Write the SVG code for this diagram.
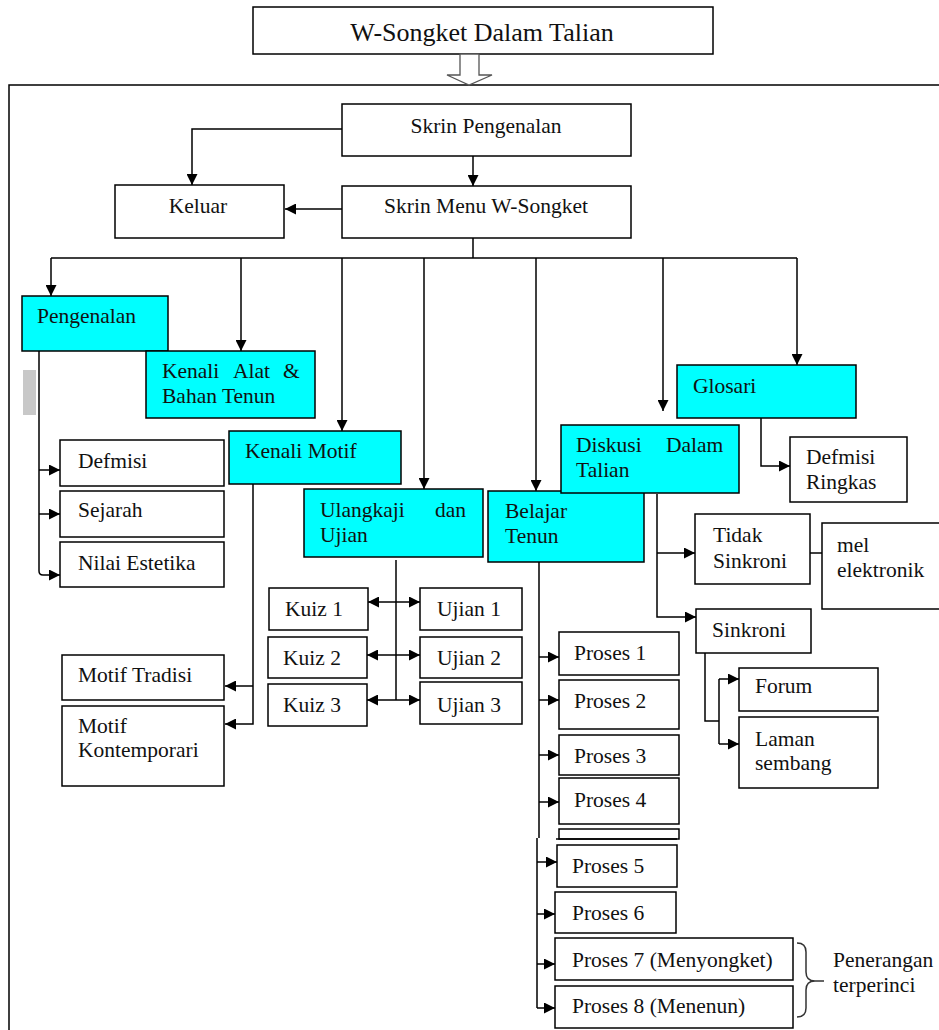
<svg xmlns="http://www.w3.org/2000/svg" width="939" height="1030" viewBox="0 0 939 1030">
<style>
.b{fill:#fff;stroke:#000;stroke-width:1.5}
.c{fill:#00ffff;stroke:#000;stroke-width:1.5}
.l{fill:none;stroke:#000;stroke-width:1.5}
.a{fill:none;stroke:#000;stroke-width:1.5;marker-end:url(#ah)}
.d{fill:none;stroke:#000;stroke-width:1.5;marker-start:url(#ah);marker-end:url(#ah)}
text{font-family:"Liberation Serif","Times New Roman",serif;font-size:21.5px;fill:#111}
.m{text-anchor:middle}
</style>
<defs>
<marker id="ah" viewBox="0 0 10 10" refX="10" refY="5" markerWidth="11" markerHeight="11" markerUnits="userSpaceOnUse" orient="auto-start-reverse">
<path d="M0,0 L10,5 L0,10 Z" fill="#000"/>
</marker>
</defs>
<rect x="9" y="85" width="960" height="980" fill="none" stroke="#000" stroke-width="1.5"/>
<g id="title"><rect class="b" x="253" y="7" width="460" height="47"/><text class="m" x="482" y="41" style="font-size:26px">W-Songket Dalam Talian</text></g>
<g id="hollow-arrow"><polygon points="460,54 479,54 479,75 492,75 469,85 447,75 460,75" fill="#fff" stroke="#555" stroke-width="1.3"/></g>
<g id="connectors">
<path class="a" d="M342,129 H192 V185"/>
<path class="a" d="M473,156 V186"/>
<path class="a" d="M342,209 H285"/>
<path class="l" d="M473,238 V258 M51,258 H797"/>
<path class="a" d="M51,258 V296"/>
<path class="a" d="M241,258 V351"/>
<path class="a" d="M342,258 V431"/>
<path class="a" d="M424,258 V489"/>
<path class="a" d="M536,258 V491"/>
<path class="a" d="M663,258 V411"/>
<path class="a" d="M797,258 V365"/>
<path class="a" d="M39,351 V571 Q39,575 43,575 H60"/>
<path class="a" d="M39,470 H60"/>
<path class="a" d="M39,514 H60"/>
<path class="a" d="M253,484 V724 H225"/>
<path class="a" d="M253,686 H225"/>
<path class="l" d="M396,560 V700"/>
<path class="d" d="M368,602 H420"/>
<path class="d" d="M367,655 H420"/>
<path class="d" d="M367,700 H420"/>
<path class="l" d="M539,562 V838 M537,838 V1008"/>
<path class="a" d="M539,657 H559"/>
<path class="a" d="M539,700 H559"/>
<path class="a" d="M539,755 H559"/>
<path class="a" d="M539,802 H559"/>
<path class="a" d="M537,862 H557"/>
<path class="a" d="M537,914 H555"/>
<path class="a" d="M537,964 H555"/>
<path class="a" d="M537,1008 H555"/>
<path class="a" d="M761,418 V466 H790"/>
<path class="a" d="M657,494 V617 H696"/>
<path class="a" d="M657,553 H695"/>
<path class="a" d="M810,553 H840"/>
<path class="l" d="M705,653 V721 H719 M719,679 V744"/>
<path class="a" d="M719,679 H739"/>
<path class="a" d="M719,744 H739"/>
<path d="M797,943 Q806,943 806,952 V972 Q806,981 815,981 Q806,981 806,990 V1008 Q806,1017 797,1017 M815,981 H824" fill="none" stroke="#333" stroke-width="1.5"/>
</g>
<g id="skrin-pengenalan"><rect class="b" x="342" y="104" width="289" height="52"/><text class="m" x="486" y="133">Skrin Pengenalan</text></g>
<g id="skrin-menu"><rect class="b" x="342" y="186" width="289" height="52"/><text class="m" x="486" y="213">Skrin Menu W-Songket</text></g>
<g id="keluar"><rect class="b" x="115" y="185" width="169" height="53"/><text class="m" x="198" y="213">Keluar</text></g>
<g id="pengenalan"><rect class="c" x="22" y="296" width="146" height="55"/><text x="37" y="323">Pengenalan</text></g>
<g id="gray-mark"><rect x="23" y="370" width="13" height="45" fill="#c8c8c8"/></g>
<g id="kenali-alat"><rect class="c" x="146" y="351" width="169" height="67"/><text y="378"><tspan x="162">Kenali</tspan><tspan x="233">Alat</tspan><tspan x="283">&amp;</tspan></text><text x="162" y="403">Bahan Tenun</text></g>
<g id="defmisi"><rect class="b" x="60" y="440" width="164" height="46"/><text x="78" y="468">Defmisi</text></g>
<g id="sejarah"><rect class="b" x="60" y="491" width="164" height="46"/><text x="78" y="517">Sejarah</text></g>
<g id="nilai-estetika"><rect class="b" x="60" y="542" width="164" height="45"/><text x="78" y="570">Nilai Estetika</text></g>
<g id="kenali-motif"><rect class="c" x="229" y="431" width="172" height="53"/><text x="245" y="458">Kenali Motif</text></g>
<g id="motif-tradisi"><rect class="b" x="62" y="655" width="162" height="45"/><text x="78" y="682">Motif Tradisi</text></g>
<g id="motif-kontemporari"><rect class="b" x="62" y="706" width="162" height="80"/><text x="78" y="733">Motif</text><text x="78" y="757">Kontemporari</text></g>
<g id="ulangkaji"><rect class="c" x="304" y="489" width="179" height="68"/><text y="517"><tspan x="320">Ulangkaji</tspan><tspan x="435">dan</tspan></text><text x="320" y="542">Ujian</text></g>
<g id="kuiz1"><rect class="b" x="269" y="588" width="99" height="42"/><text x="285" y="616">Kuiz 1</text></g>
<g id="kuiz2"><rect class="b" x="268" y="637" width="99" height="41"/><text x="283" y="665">Kuiz 2</text></g>
<g id="kuiz3"><rect class="b" x="268" y="684" width="99" height="42"/><text x="283" y="712">Kuiz 3</text></g>
<g id="ujian1"><rect class="b" x="420" y="588" width="102" height="42"/><text x="437" y="616">Ujian 1</text></g>
<g id="ujian2"><rect class="b" x="420" y="637" width="102" height="41"/><text x="437" y="665">Ujian 2</text></g>
<g id="ujian3"><rect class="b" x="420" y="682" width="102" height="42"/><text x="437" y="712">Ujian 3</text></g>
<g id="belajar-tenun"><rect class="c" x="488" y="491" width="156" height="71"/><text x="505" y="518">Belajar</text><text x="505" y="543">Tenun</text></g>
<g id="proses1"><rect class="b" x="559" y="632" width="120" height="43"/><text x="574" y="660">Proses 1</text></g>
<g id="proses2"><rect class="b" x="559" y="680" width="120" height="49"/><text x="574" y="708">Proses 2</text></g>
<g id="proses3"><rect class="b" x="559" y="735" width="120" height="40"/><text x="574" y="763">Proses 3</text></g>
<g id="proses4"><rect class="b" x="559" y="778" width="120" height="46"/><text x="574" y="807">Proses 4</text></g>
<g id="blank-box"><rect class="b" x="559" y="829" width="120" height="10"/><path class="l" d="M556,839 H677"/></g>
<g id="proses5"><rect class="b" x="557" y="845" width="120" height="42"/><text x="572" y="873">Proses 5</text></g>
<g id="proses6"><rect class="b" x="555" y="892" width="121" height="41"/><text x="572" y="920">Proses 6</text></g>
<g id="proses7"><rect class="b" x="555" y="938" width="238" height="42"/><text x="572" y="967">Proses 7 (Menyongket)</text></g>
<g id="proses8"><rect class="b" x="555" y="986" width="238" height="42"/><text x="572" y="1013">Proses 8 (Menenun)</text></g>
<g id="penerangan"><text x="833" y="967">Penerangan</text><text x="833" y="992">terperinci</text></g>
<g id="diskusi"><rect class="c" x="561" y="425" width="178" height="68"/><text y="452"><tspan x="576">Diskusi</tspan><tspan x="666">Dalam</tspan></text><text x="576" y="477">Talian</text></g>
<g id="glosari"><rect class="c" x="677" y="365" width="179" height="53"/><text x="693" y="393">Glosari</text></g>
<g id="defmisi-ringkas"><rect class="b" x="790" y="437" width="117" height="65"/><text x="806" y="464">Defmisi</text><text x="806" y="489">Ringkas</text></g>
<g id="tidak-sinkroni"><rect class="b" x="695" y="514" width="115" height="70"/><text x="713" y="542">Tidak</text><text x="713" y="568">Sinkroni</text></g>
<g id="mel-elektronik"><rect class="b" x="822" y="523" width="120" height="86"/><text x="837" y="552">mel</text><text x="837" y="577">elektronik</text></g>
<g id="sinkroni"><rect class="b" x="696" y="609" width="115" height="44"/><text x="712" y="637">Sinkroni</text></g>
<g id="forum"><rect class="b" x="739" y="668" width="139" height="43"/><text x="755" y="693">Forum</text></g>
<g id="laman-sembang"><rect class="b" x="739" y="717" width="139" height="71"/><text x="755" y="746">Laman</text><text x="755" y="770">sembang</text></g>
</svg>
